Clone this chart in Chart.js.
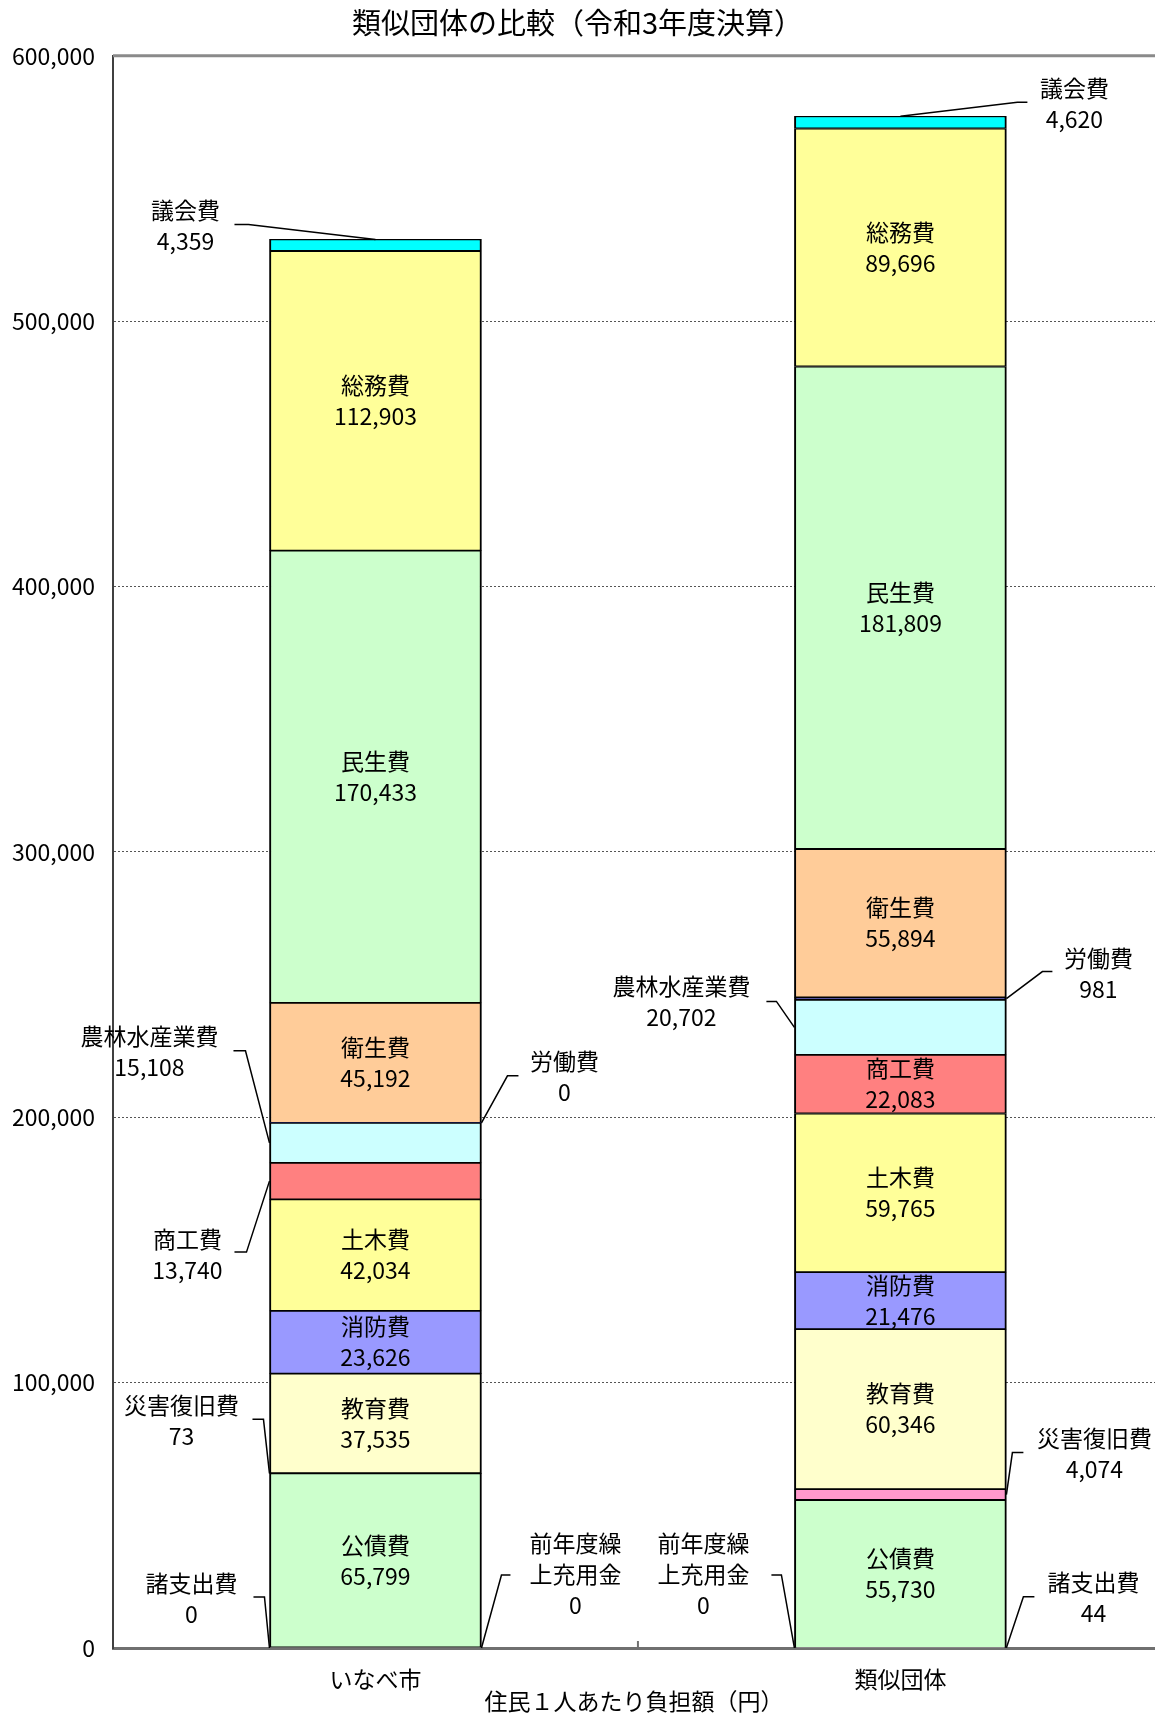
<!DOCTYPE html>
<html lang="ja">
<head>
<meta charset="utf-8">
<script src="https://cdn.jsdelivr.net/npm/chart.js@4.4.1/dist/chart.umd.min.js"></script>
<style>
  html, body { margin: 0; padding: 0; background: #fff; }
</style>
</head>
<body>
<canvas id="costChart" width="1155" height="1715"></canvas>
<script>
// ==============================
// データ
// ==============================
const categories = ["いなべ市", "類似団体"];
const seriesNames = ["諸支出費", "前年度繰上充用金", "公債費", "災害復旧費", "教育費", "消防費", "土木費", "商工費", "農林水産業費", "労働費", "衛生費", "民生費", "総務費", "議会費"];
const inabeValues = [0, 0, 65799, 73, 37535, 23626, 42034, 13740, 15108, 0, 45192, 170433, 112903, 4359];
const ruijiValues = [44, 0, 55730, 4074, 60346, 21476, 59765, 22083, 20702, 981, 55894, 181809, 89696, 4620];
const yTickValues = [0, 100000, 200000, 300000, 400000, 500000, 600000];

// ==============================
// 見た目
// ==============================
const seriesColors = ["#C0C0C0", "#808080", "#CCFFCC", "#FF99CC", "#FFFFCC", "#9999FF", "#FFFF99", "#FF8080", "#CCFFFF", "#333399", "#FFCC99", "#CCFFCC", "#FFFF99", "#00FFFF"];
const FONT_FAMILY = '"Noto Sans CJK JP", "Noto Sans", sans-serif';
const LABEL_FONT = "23px " + FONT_FAMILY;
const LINE_GAP = 31;

// 棒の中に書くラベル
const insideLabels = [
  ["公債費", "教育費", "消防費", "土木費", "衛生費", "民生費", "総務費"],
  ["公債費", "教育費", "消防費", "土木費", "商工費", "衛生費", "民生費", "総務費"]
];

// 引出線つきラベル（位置は棒の端からのずれ）
const callouts = [
  { bar: 0, name: "議会費", anchor: "top", tx: -190, ty: -29, sx: -141, ex: -127, ly: -15 },
  { bar: 0, name: "農林水産業費", anchor: "left", tx: -120, ty: -107, sx: -36, ex: -24, ly: -92 },
  { bar: 0, name: "商工費", anchor: "left", tx: -82, ty: 58, sx: -35, ex: -23, ly: 71 },
  { bar: 0, name: "労働費", anchor: "right", tx: 83, ty: -62, sx: 37, ex: 26, ly: -47 },
  { bar: 0, name: "災害復旧費", anchor: "left", tx: -88, ty: -68, sx: -17, ex: -6, ly: -54 },
  { bar: 0, name: "諸支出費", anchor: "left", tx: -78, ty: -65, sx: -16, ex: -5, ly: -51 },
  { bar: 0, name: "前年度繰上充用金", anchor: "right", tx: 94, ty: -105, sx: 29, ex: 20, ly: -73 },
  { bar: 1, name: "議会費", anchor: "top", tx: 174, ty: -28, sx: 127, ex: 117, ly: -14 },
  { bar: 1, name: "農林水産業費", anchor: "left", tx: -113, ty: -41, sx: -28, ex: -18, ly: -26 },
  { bar: 1, name: "労働費", anchor: "right", tx: 92, ty: -40, sx: 46, ex: 36, ly: -27 },
  { bar: 1, name: "災害復旧費", anchor: "right", tx: 88, ty: -56, sx: 17, ex: 6, ly: -42 },
  { bar: 1, name: "諸支出費", anchor: "right", tx: 87, ty: -65, sx: 28, ex: 17, ly: -51 },
  { bar: 1, name: "前年度繰上充用金", anchor: "left", tx: -91, ty: -105, sx: -23, ex: -13, ly: -73 }
];

const fmt = v => v.toLocaleString("en-US");
const splitName = n => n.length > 6 ? [n.slice(0, 4), n.slice(4)] : [n];

const datasets = seriesNames.map((name, i) => ({
  label: name,
  data: [
    { x: 0, y: inabeValues[i] },
    { x: 1, y: ruijiValues[i] }
  ],
  backgroundColor: seriesColors[i],
  borderColor: "#000",
  borderSkipped: false,
  borderWidth: c => (c.raw && c.raw.y === 0) ? 0 : { top: 1.25, bottom: 1.25, left: 2, right: 2 },
  barThickness: 212
}));

const labelPlugin = {
  id: "segLabels",
  beforeDatasetsDraw(chart) {
    const { ctx, chartArea } = chart;
    const y = chart.scales.y;
    const x = chart.scales.x;
    ctx.save();
    // 上端の実線
    ctx.strokeStyle = "#8a8a8a";
    ctx.lineWidth = 3;
    ctx.beginPath();
    ctx.moveTo(chartArea.left, y.getPixelForValue(600000));
    ctx.lineTo(chartArea.right, y.getPixelForValue(600000));
    ctx.stroke();
    // 区切りの目盛
    ctx.lineWidth = 2;
    ctx.strokeStyle = "#707070";
    const mx = x.getPixelForValue(0.5);
    ctx.beginPath();
    ctx.moveTo(mx, chartArea.bottom);
    ctx.lineTo(mx, chartArea.bottom - 7);
    ctx.stroke();
    ctx.restore();
  },
  afterDatasetsDraw(chart) {
    const ctx = chart.ctx;
    ctx.save();
    ctx.font = LABEL_FONT;
    ctx.fillStyle = "#000";
    ctx.textAlign = "center";
    ctx.textBaseline = "middle";

    chart.data.datasets.forEach((ds, si) => {
      const meta = chart.getDatasetMeta(si);
      meta.data.forEach((bar, bi) => {
        const name = seriesNames[si];
        const value = ds.data[bi].y;
        if (insideLabels[bi].includes(name)) {
          const mid = (bar.y + bar.base) / 2;
          ctx.fillText(name, bar.x, mid - LINE_GAP / 2);
          ctx.fillText(fmt(value), bar.x, mid + LINE_GAP / 2);
        }
      });
    });

    ctx.strokeStyle = "#000";
    ctx.lineWidth = 1.5;
    callouts.forEach(c => {
      const si = seriesNames.indexOf(c.name);
      const bar = chart.getDatasetMeta(si).data[c.bar];
      const value = chart.data.datasets[si].data[c.bar].y;
      let ax, ay;
      if (c.anchor === "top") { ax = bar.x; ay = bar.y; }
      else {
        ax = c.anchor === "left" ? bar.x - bar.width / 2 : bar.x + bar.width / 2;
        ay = (bar.y + bar.base) / 2;
      }
      ctx.beginPath();
      ctx.moveTo(ax + c.sx, ay + c.ly);
      ctx.lineTo(ax + c.ex, ay + c.ly);
      ctx.lineTo(ax, ay);
      ctx.stroke();
      const lines = splitName(c.name).concat([fmt(value)]);
      lines.forEach((t, k) => ctx.fillText(t, ax + c.tx, ay + c.ty + k * LINE_GAP));
    });
    ctx.restore();
  }
};

Chart.defaults.font.family = FONT_FAMILY;
Chart.defaults.color = "#000";

new Chart(document.getElementById("costChart").getContext("2d"), {
  type: "bar",
  data: { datasets },
  plugins: [labelPlugin],
  options: {
    responsive: false,
    animation: false,
    layout: { padding: 0 },
    plugins: {
      legend: { display: false },
      tooltip: { enabled: false },
      title: {
        display: true,
        text: "類似団体の比較（令和3年度決算）",
        font: { size: 29, weight: "normal" },
        color: "#000",
        padding: { top: 6, bottom: 15 }
      }
    },
    scales: {
      x: {
        type: "linear",
        stacked: true,
        offset: false,
        min: -0.5,
        max: 1.485,
        afterBuildTicks: s => { s.ticks = [{ value: 0 }, { value: 1 }]; },
        afterFit: s => { s.height = 67; },
        ticks: {
          font: { size: 23 },
          padding: 17,
          callback: v => categories[v]
        },
        grid: { display: false, drawTicks: false },
        border: { color: "#707070", width: 3 },
        title: {
          display: true,
          text: "住民１人あたり負担額（円）",
          font: { size: 23 },
          padding: { top: 0, bottom: 0 }
        }
      },
      y: {
        stacked: true,
        min: 0,
        max: 600000,
        afterBuildTicks: s => { s.ticks = yTickValues.map(v => ({ value: v })); },
        afterFit: s => { s.width = 113; },
        ticks: {
          font: { size: 23 },
          padding: 18,
          callback: v => fmt(v)
        },
        grid: { color: "#555", lineWidth: 1, drawTicks: false },
        border: { color: "#404040", width: 2, dash: [2, 2] }
      }
    }
  }
});
</script>
</body>
</html>
